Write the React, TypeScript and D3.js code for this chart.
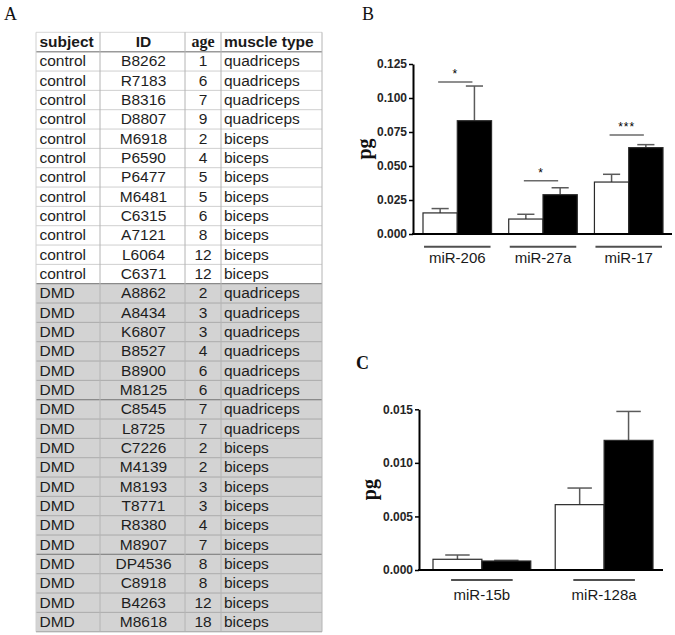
import React from "react";
import * as d3 from "d3";

// ---------- Table data (panel A) ----------
const headers = ["subject", "ID", "age", "muscle type"];
const subjects = [
  "control","control","control","control","control","control","control","control","control","control","control","control",
  "DMD","DMD","DMD","DMD","DMD","DMD","DMD","DMD","DMD","DMD","DMD","DMD","DMD","DMD","DMD","DMD","DMD","DMD",
];
const ids = [
  "B8262","R7183","B8316","D8807","M6918","P6590","P6477","M6481","C6315","A7121","L6064","C6371",
  "A8862","A8434","K6807","B8527","B8900","M8125","C8545","L8725","C7226","M4139","M8193","T8771","R8380","M8907","DP4536","C8918","B4263","M8618",
];
const ages = [1,6,7,9,2,4,5,5,6,8,12,12, 2,3,3,4,6,6,7,7,2,2,3,3,4,7,8,8,12,18];
const muscles = [
  "quadriceps","quadriceps","quadriceps","quadriceps","biceps","biceps","biceps","biceps","biceps","biceps","biceps","biceps",
  "quadriceps","quadriceps","quadriceps","quadriceps","quadriceps","quadriceps","quadriceps","quadriceps",
  "biceps","biceps","biceps","biceps","biceps","biceps","biceps","biceps","biceps","biceps",
];
const thickRowBorders = [12, 18, 26];

// ---------- Panel B data ----------
const catsB = ["miR-206", "miR-27a", "miR-17"];
const ctrlB = [0.0155, 0.011, 0.0382];
const ctrlErrB = [0.0032, 0.0035, 0.0057];
const dmdB = [0.0833, 0.0289, 0.0635];
const dmdErrB = [0.0255, 0.0051, 0.0022];
const sigB = ["*", "*", "***"];
const sigLevelB = [0.1118, 0.0392, 0.0728];
const ticksB = [0, 0.025, 0.05, 0.075, 0.1, 0.125];

// ---------- Panel C data ----------
const catsC = ["miR-15b", "miR-128a"];
const ctrlC = [0.001, 0.0061];
const ctrlErrC = [0.0004, 0.00155];
const dmdC = [0.00084, 0.0121];
const dmdErrC = [0.00006, 0.0027];
const ticksC = [0, 0.005, 0.01, 0.015];

const SANS = "'Liberation Sans', Arial, sans-serif";
const SERIF = "'Liberation Serif', 'Times New Roman', serif";

function Table() {
  const colX = [36, 100, 185, 221, 322];
  const rowY = d3.scaleLinear().domain([0, subjects.length]).range([51.7, 631.7]);
  const headTop = 32.3;
  const fs = 15.5;
  const rows = subjects.map((s, i) => {
    const y0 = rowY(i);
    const y1 = rowY(i + 1);
    const dmd = s === "DMD";
    return (
      <g key={i}>
        <rect x={colX[0]} y={y0} width={colX[4] - colX[0]} height={y1 - y0} fill={dmd ? "#d3d3d3" : "#ffffff"} />
        <text x={39.5} y={y1 - 4.6} fontSize={fs} fontFamily={SANS} fill="#1e1e1e">{s}</text>
        <text x={(colX[1] + colX[2]) / 2 + 1} y={y1 - 4.6} fontSize={fs} fontFamily={SANS} fill="#1e1e1e" textAnchor="middle">{ids[i]}</text>
        <text x={(colX[2] + colX[3]) / 2} y={y1 - 4.6} fontSize={fs} fontFamily={SANS} fill="#1e1e1e" textAnchor="middle">{ages[i]}</text>
        <text x={224} y={y1 - 4.6} fontSize={fs} fontFamily={SANS} fill="#1e1e1e">{muscles[i]}</text>
      </g>
    );
  });
  const lines = subjects.map((s, i) => {
    const y = rowY(i + 1);
    const dmd = s === "DMD";
    return <line key={"l" + i} x1={colX[0]} x2={colX[4]} y1={y} y2={y} stroke={dmd ? "#a9a9a9" : "#cfcfcf"} strokeWidth={1} />;
  });
  return (
    <g>
      <rect x={colX[0]} y={headTop} width={colX[4] - colX[0]} height={rowY(0) - headTop} fill="#fff" />
      {rows}
      {lines}
      {thickRowBorders.map((r) => (
        <line key={"t" + r} x1={colX[0]} x2={colX[4]} y1={rowY(r)} y2={rowY(r)} stroke="#8a8a8a" strokeWidth={1.2} />
      ))}
      <line x1={colX[0]} x2={colX[4]} y1={rowY(0)} y2={rowY(0)} stroke="#9a9a9a" strokeWidth={1.5} />
      <line x1={colX[0]} x2={colX[4]} y1={headTop} y2={headTop} stroke="#d8d8d8" strokeWidth={1} />
      {colX.map((x, i) => (
        <line key={"c" + i} x1={x} x2={x} y1={headTop} y2={rowY(subjects.length)} stroke={i === 0 ? "#d0d0d0" : "#b4b4b4"} strokeWidth={1} />
      ))}
      <line x1={colX[0]} x2={colX[4]} y1={rowY(subjects.length)} y2={rowY(subjects.length)} stroke="#b0b0b0" strokeWidth={1} />
      <text x={39.5} y={47.4} fontSize={fs} fontWeight="bold" fontFamily={SANS} fill="#1a1a1a">{headers[0]}</text>
      <text x={(colX[1] + colX[2]) / 2 + 1} y={47.4} fontSize={fs} fontWeight="bold" fontFamily={SANS} fill="#1a1a1a" textAnchor="middle">{headers[1]}</text>
      <text x={(colX[2] + colX[3]) / 2} y={47.4} fontSize={16} fontWeight="bold" fontFamily={SERIF} fill="#1a1a1a" textAnchor="middle">{headers[2]}</text>
      <text x={224} y={47.4} fontSize={fs} fontWeight="bold" fontFamily={SANS} fill="#1a1a1a">{headers[3]}</text>
    </g>
  );
}

type PanelProps = {
  cats: string[];
  ctrl: number[];
  ctrlErr: number[];
  dmd: number[];
  dmdErr: number[];
  ticks: number[];
  yDomainMax: number;
  yTop: number;
  yBottom: number;
  axisX: number;
  xEnd: number;
  bandRange: [number, number];
  underlineY: number;
  underlineFrac: number;
  labelY: number;
  pgX: number;
  sig?: string[];
  sigLevel?: number[];
};

function BarPanel(p: PanelProps) {
  const y = d3.scaleLinear().domain([0, p.yDomainMax]).range([p.yBottom, p.yTop]);
  const x0 = d3.scaleBand<string>().domain(p.cats).range(p.bandRange).paddingInner(0.2).paddingOuter(0);
  const x1 = d3.scaleBand<string>().domain(["ctrl", "dmd"]).range([0, x0.bandwidth()]).padding(0);
  const axisRef = React.useRef<SVGGElement>(null);
  React.useEffect(() => {
    if (!axisRef.current) return;
    const g = d3.select(axisRef.current);
    g.selectAll("*").remove();
    const ax = d3.axisLeft(y).tickValues(p.ticks).tickSize(4).tickSizeOuter(0).tickFormat(d3.format(".3f"));
    g.call(ax as any);
    g.select(".domain").attr("stroke", "#000").attr("stroke-width", 2);
    g.selectAll(".tick line").attr("stroke", "#000").attr("stroke-width", 1.5);
    g.selectAll(".tick text")
      .attr("font-family", SANS)
      .attr("font-size", 12)
      .attr("font-weight", "bold")
      .attr("fill", "#262626")
      .attr("x", -6);
  }, []);
  const bw = x1.bandwidth();
  const errColor = "#5a5a5a";
  const bars: React.ReactNode[] = [];
  p.cats.forEach((c, i) => {
    const gx = x0(c)!;
    const series = [
      { key: "ctrl", v: p.ctrl[i], e: p.ctrlErr[i], fill: "#ffffff" },
      { key: "dmd", v: p.dmd[i], e: p.dmdErr[i], fill: "#000000" },
    ];
    series.forEach((s) => {
      const bx = gx + x1(s.key)!;
      const cx = bx + bw / 2;
      bars.push(
        <g key={c + s.key}>
          <line x1={cx} x2={cx} y1={y(s.v)} y2={y(s.v + s.e)} stroke={errColor} strokeWidth={1.5} />
          <line x1={cx - bw / 4} x2={cx + bw / 4} y1={y(s.v + s.e)} y2={y(s.v + s.e)} stroke={errColor} strokeWidth={1.5} />
          <rect x={bx} y={y(s.v)} width={bw} height={y(0) - y(s.v)} fill={s.fill} stroke="#2a2a2a" strokeWidth={1.2} />
        </g>
      );
    });
    const ulW = x0.bandwidth() * p.underlineFrac;
    const mid = gx + x0.bandwidth() / 2;
    bars.push(
      <g key={c + "lab"}>
        <line x1={mid - ulW / 2} x2={mid + ulW / 2} y1={p.underlineY} y2={p.underlineY} stroke="#505050" strokeWidth={2} />
        <text x={mid} y={p.labelY} textAnchor="middle" fontFamily={SANS} fontSize={15} fill="#1a1a1a">{c}</text>
      </g>
    );
    if (p.sig && p.sigLevel) {
      const sx1 = gx + x1("ctrl")! + bw / 2 - 2;
      const sx2 = gx + x1("dmd")! + bw / 2 - 2;
      const sy = y(p.sigLevel[i]);
      bars.push(
        <g key={c + "sig"}>
          <line x1={sx1} x2={sx2} y1={sy} y2={sy} stroke="#6a6a6a" strokeWidth={1.5} />
          <text x={(sx1 + sx2) / 2} y={sy - 4} textAnchor="middle" fontFamily={SANS} fontSize={12} fill="#000" letterSpacing={1}>{p.sig[i]}</text>
        </g>
      );
    }
  });
  return (
    <g>
      {bars}
      <g ref={axisRef} transform={`translate(${p.axisX},0)`} />
      <line x1={p.axisX - 1} x2={p.xEnd} y1={p.yBottom} y2={p.yBottom} stroke="#000" strokeWidth={2} />
      <text transform={`translate(${p.pgX},${(p.yTop + p.yBottom) / 2}) rotate(-90)`} textAnchor="middle" fontFamily={SERIF} fontWeight="bold" fontSize={20} fill="#111">pg</text>
    </g>
  );
}

export default function App() {
  return (
    <svg width={675} height={635} style={{ position: "absolute", left: 0, top: 0, background: "#fff" }}>
      <rect width={675} height={635} fill="#fff" />
      <text x={4} y={20} fontFamily={SERIF} fontSize={18} fill="#111">A</text>
      <text x={362} y={20} fontFamily={SERIF} fontSize={18} fill="#111">B</text>
      <text x={356} y={369} fontFamily={SERIF} fontWeight="bold" fontSize={18} fill="#111">C</text>
      <Table />
      <BarPanel
        cats={catsB}
        ctrl={ctrlB}
        ctrlErr={ctrlErrB}
        dmd={dmdB}
        dmdErr={dmdErrB}
        ticks={ticksB}
        yDomainMax={0.125}
        yTop={64}
        yBottom={234}
        axisX={413}
        xEnd={672}
        bandRange={[423, 663]}
        underlineY={246.7}
        underlineFrac={0.97}
        labelY={263}
        pgX={371}
        sig={sigB}
        sigLevel={sigLevelB}
      />
      <BarPanel
        cats={catsC}
        ctrl={ctrlC}
        ctrlErr={ctrlErrC}
        dmd={dmdC}
        dmdErr={dmdErrC}
        ticks={ticksC}
        yDomainMax={0.015}
        yTop={409.3}
        yBottom={570}
        axisX={419}
        xEnd={663}
        bandRange={[433, 653]}
        underlineY={580}
        underlineFrac={0.63}
        labelY={600}
        pgX={376}
      />
    </svg>
  );
}
